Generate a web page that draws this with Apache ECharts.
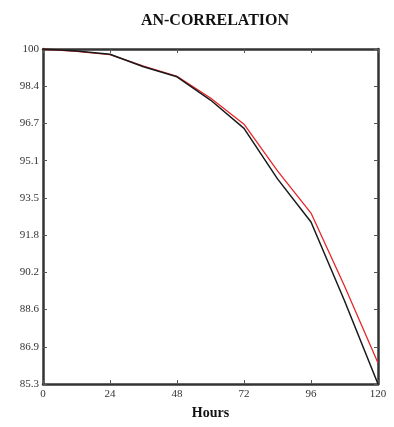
<!DOCTYPE html>
<html><head><meta charset="utf-8">
<script src="https://cdn.jsdelivr.net/npm/echarts@6/dist/echarts.min.js"></script>
<style>html,body{margin:0;padding:0;background:#fff}#c{width:394px;height:427px}</style>
</head><body><div id="c"></div>
<script>
const hours = [0, 12, 24, 36, 48, 60, 72, 84, 96, 108, 120];
const blackSeries = [100, 99.91, 99.77, 99.22, 98.78, 97.76, 96.52, 94.3, 92.41, 88.95, 85.3];
const redSeries = [100, 99.9, 99.75, 99.25, 98.8, 97.85, 96.7, 94.65, 92.8, 89.6, 86.22];
const yTickLabels = ['85.3', '86.9', '88.6', '90.2', '91.8', '93.5', '95.1', '96.7', '98.4', '100'];
const xTicks = [0, 24, 48, 72, 96, 120];

const chart = echarts.init(document.getElementById('c'));
const lineStyleAxis = { color: '#333', width: 2.5 };
const tickIn = { show: true, inside: true, length: 4, lineStyle: { color: '#555', width: 1 } };
const lblFont = { fontFamily: 'Liberation Serif', fontSize: 11, color: '#333' };
chart.setOption({
  animation: false,
  title: {
    text: 'AN-CORRELATION', left: 210, top: 8, textAlign: 'center',
    textStyle: { fontFamily: 'Liberation Serif', fontWeight: 'bold', fontSize: 16, color: '#111' }
  },
  grid: { left: 43, right: 16, top: 49, bottom: 43 },
  xAxis: [
    { type: 'value', min: 0, max: 120, interval: 24, position: 'bottom',
      axisLine: { show: true, lineStyle: lineStyleAxis }, axisTick: tickIn,
      axisLabel: Object.assign({ margin: 5 }, lblFont), splitLine: { show: false },
      name: 'Hours', nameLocation: 'middle', nameGap: 22,
      nameTextStyle: { fontFamily: 'Liberation Serif', fontWeight: 'bold', fontSize: 14, color: '#111' } },
    { type: 'value', min: 0, max: 120, interval: 24, position: 'top',
      axisLine: { show: true, lineStyle: lineStyleAxis }, axisTick: tickIn,
      axisLabel: { show: false }, splitLine: { show: false } }
  ],
  yAxis: [
    { type: 'value', min: 85.3, max: 100, position: 'left',
      axisLine: { show: true, lineStyle: lineStyleAxis }, axisTick: { show: false },
      axisLabel: { show: false }, splitLine: { show: false } },
    { type: 'category', data: yTickLabels, boundaryGap: false, position: 'left',
      axisLine: { show: false }, axisTick: tickIn,
      axisLabel: Object.assign({ margin: 4 }, lblFont), splitLine: { show: false } },
    { type: 'category', data: yTickLabels, boundaryGap: false, position: 'right',
      axisLine: { show: true, lineStyle: lineStyleAxis }, axisTick: tickIn,
      axisLabel: { show: false }, splitLine: { show: false } }
  ],
  series: [
    { type: 'line', xAxisIndex: 0, yAxisIndex: 0, showSymbol: false,
      data: hours.map((h, i) => [h, redSeries[i]]),
      lineStyle: { color: '#e8262a', width: 1.3 } },
    { type: 'line', xAxisIndex: 0, yAxisIndex: 0, showSymbol: false,
      data: hours.map((h, i) => [h, blackSeries[i]]),
      lineStyle: { color: '#1a1a1a', width: 1.5 } }
  ]
});
</script></body></html>
